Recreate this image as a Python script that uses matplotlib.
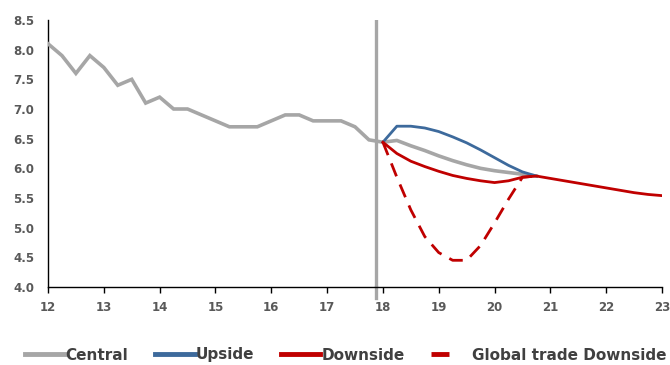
import matplotlib.pyplot as plt
from matplotlib.lines import Line2D

# quarterly history, 2012Q1 .. 2018Q1
hist_x = [12 + 0.25 * i for i in range(25)]
central_hist = [8.1, 7.9, 7.6, 7.9, 7.7, 7.4, 7.5, 7.1, 7.2, 7.0, 7.0, 6.9,
                6.8, 6.7, 6.7, 6.7, 6.8, 6.9, 6.9, 6.8, 6.8, 6.8, 6.7, 6.48, 6.44]

# scenario paths, 2018Q1 .. 2020Q4
fc_x = [18 + 0.25 * i for i in range(12)]
central_fc = [6.44, 6.47, 6.38, 6.30, 6.21, 6.13, 6.06, 6.00, 5.96, 5.93, 5.90, 5.87]
upside = [6.44, 6.71, 6.71, 6.68, 6.62, 6.53, 6.43, 6.31, 6.18, 6.05, 5.94, 5.87]
global_trade = [6.44, 5.85, 5.30, 4.85, 4.58, 4.45, 4.45, 4.70, 5.08, 5.48, 5.85, 5.87]

# downside runs on to 2023 and is shared by all paths after 2020Q4
down_x = [18 + 0.25 * i for i in range(21)]
downside = [6.44, 6.25, 6.12, 6.03, 5.95, 5.88, 5.83, 5.79, 5.76, 5.79, 5.85, 5.87,
            5.83, 5.79, 5.75, 5.71, 5.67, 5.63, 5.59, 5.56, 5.54]

years = list(range(12, 24))
yticks = [4.0, 4.5, 5.0, 5.5, 6.0, 6.5, 7.0, 7.5, 8.0, 8.5]

grey = '#A6A6A6'
blue = '#3D6A9C'
red = '#C00000'
tick_col = '#595959'

fig = plt.figure(figsize=(6.7, 3.65), dpi=100)
ax = fig.add_axes([48 / 670, 1 - 287 / 365, 614 / 670, 267 / 365])

ax.plot(hist_x + fc_x[1:], central_hist + central_fc[1:], color=grey, lw=2.6,
        solid_joinstyle='miter', zorder=3)
ax.plot(fc_x, upside, color=blue, lw=2.0, zorder=4)
ax.plot(fc_x, global_trade, color=red, lw=2.0, ls=(0, (5, 3.2)), zorder=4)
ax.plot(down_x, downside, color=red, lw=2.0, zorder=5)

# forecast divider
ax.axvline(17.88, ymin=0, ymax=1, color=grey, lw=2.4, zorder=2)
ax.plot([17.88, 17.88], [4.0, 3.82], color=grey, lw=2.4, clip_on=False)

ax.set_xlim(12, 23)
ax.set_ylim(4.0, 8.5)
ax.set_xticks(years)
ax.set_yticks(yticks)
ax.set_xticklabels([str(y) for y in years])
ax.set_yticklabels([f'{v:.1f}' for v in yticks])
for s in ['top', 'right']:
    ax.spines[s].set_visible(False)
for s in ['left', 'bottom']:
    ax.spines[s].set_color('black')
    ax.spines[s].set_linewidth(1.0)
ax.tick_params(axis='x', direction='out', length=4, width=1, pad=6,
               labelsize=8.5, labelcolor=tick_col)
ax.tick_params(axis='y', length=0, pad=10, labelsize=8.5, labelcolor=tick_col)
for lab in ax.get_xticklabels() + ax.get_yticklabels():
    lab.set_fontweight('bold')

handles = [Line2D([], [], color=grey, lw=3.5),
           Line2D([], [], color=blue, lw=3.5),
           Line2D([], [], color=red, lw=3.5),
           Line2D([], [], color=red, lw=3.5, ls=(0, (3.7, 20)))]
labels = ['Central', 'Upside', 'Downside', 'Global trade Downside']
fig.legend(handles, labels, loc='center left', bbox_to_anchor=(25 / 670, 1 - 355 / 365),
           ncol=4, frameon=False, handlelength=2.6, handletextpad=0.05,
           columnspacing=1.75, borderaxespad=0, borderpad=0,
           prop={'size': 11, 'weight': 'bold'}, labelcolor='#404040')

fig.savefig('out.png', dpi=100)
